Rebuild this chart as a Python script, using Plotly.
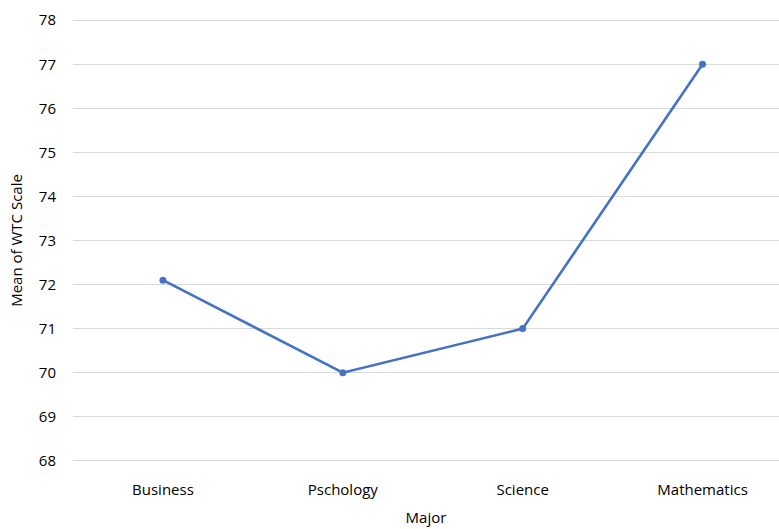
import plotly.graph_objects as go

majors = ["Business", "Pschology", "Science", "Mathematics"]
wtc_means = [72.1, 70.0, 71.0, 77.0]
y_ticks = list(range(68, 79))

fig = go.Figure(
    go.Scatter(
        x=list(range(len(majors))),
        y=wtc_means,
        mode="lines+markers",
        line=dict(color="#4472C4", width=2.6),
        marker=dict(color="#4472C4", size=7),
        hoverinfo="skip",
    )
)

fig.update_layout(
    width=779,
    height=529,
    margin=dict(l=73, r=0, t=18, b=66),
    plot_bgcolor="white",
    paper_bgcolor="white",
    showlegend=False,
    font=dict(family="Open Sans, Liberation Sans, sans-serif", size=15, color="#000000"),
)

fig.update_xaxes(
    range=[-0.5, 3.425],
    tickmode="array",
    tickvals=list(range(len(majors))),
    ticktext=majors,
    showgrid=False,
    zeroline=False,
    showline=False,
    ticks="",
    ticklabelstandoff=16,
    title=dict(text="Major", standoff=14, font=dict(size=15)),
)

# padding so the gridlines at 68 and 78 sit inside the plot area and are drawn
fig.update_yaxes(
    range=[67.95, 78.05],
    tickmode="array",
    tickvals=y_ticks,
    showgrid=True,
    gridcolor="#D9D9D9",
    gridwidth=1,
    zeroline=False,
    showline=False,
    ticks="",
    ticklabelstandoff=16,
    title=dict(text="Mean of WTC Scale", standoff=12, font=dict(size=15)),
)

fig.write_html("out.html")
